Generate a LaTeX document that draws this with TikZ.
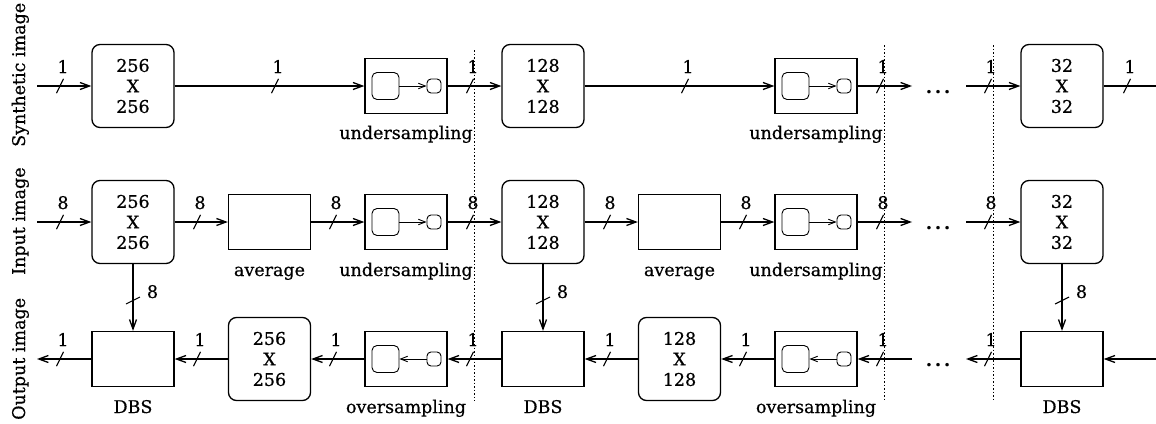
\documentclass[tikz,border=0pt]{standalone}
\usepackage{fontspec}
\setmainfont[FakeBold=0.5]{DejaVu Serif}
\usetikzlibrary{arrows.meta}
\tikzset{
  lbl/.style={font=\fontsize{17.5}{20}\selectfont, inner sep=0pt},
  rbox/.style={draw, line width=1.3pt, rounded corners=8pt, minimum width=82pt, minimum height=83pt, inner sep=0pt, align=center, font=\fontsize{17.5}{20.5}\selectfont},
  sbox/.style={draw, line width=1.3pt, minimum width=82pt, minimum height=55pt, inner sep=0pt},
  ibig/.style={draw, line width=0.9pt, rounded corners=5pt, minimum size=27pt, inner sep=0pt},
  ismall/.style={draw, line width=0.9pt, rounded corners=4pt, minimum size=14pt, inner sep=0pt},
  conn/.style={line width=1.3pt},
  arr/.style={conn, -{Straight Barb[length=9.5pt,width=7pt]}},
  iarr/.style={line width=0.9pt, -{Straight Barb[length=7pt,width=5.5pt]}},
  sepline/.style={line width=0.8pt, dash pattern=on 1.5pt off 2pt},
  hbus/.pic={\draw[line width=1.1pt] (-3.5,7.2) -- (3.5,-7.2); \node[lbl, anchor=base] at (3,-13) {#1};},
  vbus/.pic={\draw[line width=1.1pt] (-7,3.5) -- (7,-3.5); \node[lbl, anchor=base] at (19.5,-2.5) {#1};},
  dotsnode/.style={lbl, anchor=base, font=\fontsize{17.5}{20}\selectfont\bfseries}
}
\begin{document}
\begin{tikzpicture}[x=1pt,y=-1pt]
\useasboundingbox (0,0) rectangle (1156,423);
% row labels
\node[lbl, rotate=90, anchor=base west] (tS) at (25,147) {Synthetic image};
\node[lbl, rotate=90, anchor=base west] (tI) at (25,275) {Input image};
\node[lbl, rotate=90, anchor=base west] (tO) at (25,420) {Output image};
% free ends
\coordinate (L1) at (37,86);  \coordinate (L2) at (37,222);  \coordinate (L3) at (37,359);
\coordinate (E1) at (912,86); \coordinate (E2) at (912,222); \coordinate (E3) at (912,359);
\coordinate (F1) at (966,86); \coordinate (F2) at (966,222); \coordinate (F3) at (966,359);
\coordinate (R1) at (1156,86); \coordinate (R3) at (1156,359);
% repeated stages
\foreach \k/\n in {0/256,1/128}{
  \pgfmathsetmacro\ox{410*\k}
  % synthetic row
  \node[rbox] (S\k) at (133+\ox,86) {\n\\X\\\n};
  \node[sbox] (SU\k) at (406+\ox,86) {};
  \node[ibig] (SUb\k) at (385.5+\ox,86) {};
  \node[ismall] (SUs\k) at (434+\ox,86) {};
  \draw[iarr] (SUb\k) -- (SUs\k);
  \node[lbl, anchor=base] (SUl\k) at (406+\ox,139) {undersampling};
  % input row
  \node[rbox] (I\k) at (133+\ox,222) {\n\\X\\\n};
  \node[sbox] (A\k) at (269.5+\ox,222) {};
  \node[lbl, anchor=base] (Al\k) at (269.5+\ox,276) {average};
  \node[sbox] (IU\k) at (406+\ox,222) {};
  \node[ibig] (IUb\k) at (385.5+\ox,222) {};
  \node[ismall] (IUs\k) at (434+\ox,222) {};
  \draw[iarr] (IUb\k) -- (IUs\k);
  \node[lbl, anchor=base] (IUl\k) at (406+\ox,276) {undersampling};
  % output row
  \node[sbox] (D\k) at (133+\ox,359) {};
  \node[lbl, anchor=base] (Dl\k) at (133+\ox,413) {DBS};
  \node[rbox] (O\k) at (269.5+\ox,359) {\n\\X\\\n};
  \node[sbox] (OU\k) at (406+\ox,359) {};
  \node[ibig] (OUb\k) at (385.5+\ox,359) {};
  \node[ismall] (OUs\k) at (434+\ox,359) {};
  \draw[iarr] (OUs\k) -- (OUb\k);
  \node[lbl, anchor=base] (OUl\k) at (406+\ox,413) {oversampling};
  % connectors inside a stage
  \draw[arr] (S\k) -- (SU\k);
  \draw[arr] (I\k) -- (A\k);
  \draw[arr] (A\k) -- (IU\k);
  \draw[arr] (I\k) -- (D\k);
  \draw[arr] (O\k) -- (D\k);
  \draw[arr] (OU\k) -- (O\k);
}
% last stage
\node[rbox] (S2) at (1062,86) {32\\X\\32};
\node[rbox] (I2) at (1062,222) {32\\X\\32};
\node[sbox] (D2) at (1062,359) {};
\node[lbl, anchor=base] (Dl2) at (1062,413) {DBS};
% connectors between stages
\draw[arr] (L1) -- (S0);
\draw[arr] (SU0) -- (S1);
\draw[arr] (SU1) -- (E1);
\draw[arr] (F1) -- (S2);
\draw[conn] (S2) -- (R1);
\draw[arr] (L2) -- (I0);
\draw[arr] (IU0) -- (I1);
\draw[arr] (IU1) -- (E2);
\draw[arr] (F2) -- (I2);
\draw[arr] (I2) -- (D2);
\draw[arr] (D0) -- (L3);
\draw[arr] (D1) -- (OU0);
\draw[arr] (E3) -- (OU1);
\draw[arr] (D2) -- (F3);
\draw[arr] (R3) -- (D2);
% dots
\node[dotsnode] (d1) at (938,93) {.\hspace{3pt}.\hspace{3pt}.};
\node[dotsnode] (d2) at (938,229) {.\hspace{3pt}.\hspace{3pt}.};
\node[dotsnode] (d3) at (938,366) {.\hspace{3pt}.\hspace{3pt}.};
% separators
\draw[sepline] (474,50) -- (474,401);
\draw[sepline] (884,45) -- (884,401);
\draw[sepline] (993,45) -- (993,401);
% bus widths
\foreach \x in {60,275,470,685,880,988,1127} \pic at (\x,86) {hbus=1};
\foreach \x in {60,197,333,470,607,743,880,988} \pic at (\x,222) {hbus=8};
\foreach \x in {60,197,333,470,607,743,880,988} \pic at (\x,359) {hbus=1};
\foreach \x in {133,543,1062} \pic at (\x,300.5) {vbus=8};
\end{tikzpicture}
\end{document}
